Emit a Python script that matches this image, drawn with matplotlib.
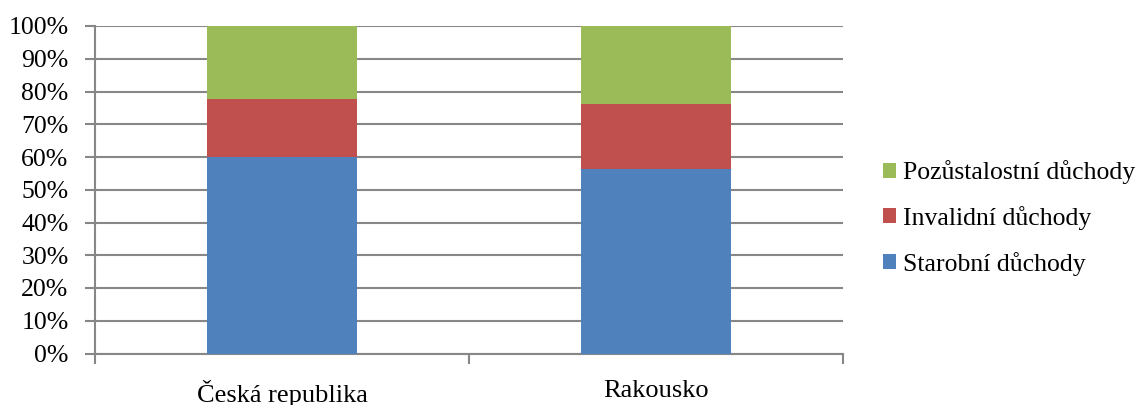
import matplotlib.pyplot as plt
from matplotlib.ticker import PercentFormatter

plt.rcParams['font.family'] = ['Liberation Serif', 'DejaVu Serif']

countries = ['Česká republika', 'Rakousko']
series_names = ['Starobní důchody', 'Invalidní důchody', 'Pozůstalostní důchody']
starobni = [60.0, 56.2]
invalidni = [17.7, 20.0]
pozustalostni = [22.3, 23.8]
colors = ['#4F81BD', '#C0504D', '#9BBB59']

fs = 18.5
fig = plt.figure(figsize=(11.45, 4.05), dpi=100)
ax = fig.add_axes([95 / 1145, (405 - 353.5) / 405, 748 / 1145, 327.5 / 405])

x = list(range(len(countries)))
bottom = [0.0] * len(countries)
handles = []
for name, vals, col in zip(series_names, [starobni, invalidni, pozustalostni], colors):
    b = ax.bar(x, vals, width=0.4, bottom=bottom, color=col, label=name, zorder=3)
    handles.append(b)
    bottom = [bo + v for bo, v in zip(bottom, vals)]

ax.set_xlim(-0.5, 1.5)
ax.set_ylim(0, 100)
ax.set_yticks(range(0, 101, 10))
ax.yaxis.set_major_formatter(PercentFormatter(decimals=0))
ax.grid(axis='y', color='#878787', linewidth=1.5, zorder=0)

grey = '#878787'
for side in ['top', 'right']:
    ax.spines[side].set_visible(False)
ax.spines['left'].set_color(grey)
ax.spines['left'].set_linewidth(1.5)
ax.spines['bottom'].set_color(grey)
ax.spines['bottom'].set_linewidth(1.5)

ax.tick_params(axis='y', length=7, width=1.5, color=grey, labelsize=fs, pad=12)
ax.set_xticks(x)
ax.set_xticklabels(countries)
ax.tick_params(axis='x', length=0, labelsize=19, pad=19)
# category boundary ticks
ax.set_xticks([-0.5, 0.5, 1.5], minor=True)
ax.tick_params(axis='x', which='minor', length=7, width=1.5, color=grey)

ax.legend(handles[::-1], series_names[::-1], loc='center left',
          bbox_to_anchor=(883 / 1145, (405 - 218) / 405),
          bbox_transform=fig.transFigure, borderaxespad=0, borderpad=0,
          frameon=False, fontsize=fs,
          handlelength=0.52, handleheight=0.52, handletextpad=0.25,
          labelspacing=0.85)

fig.savefig('out.png', dpi=100)
